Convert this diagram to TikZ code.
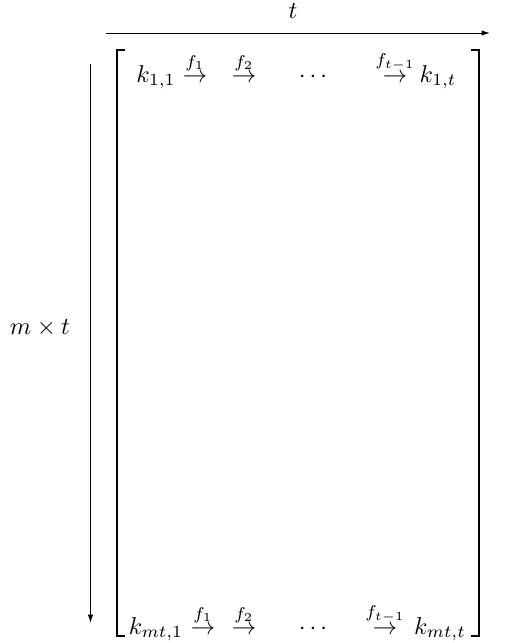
\documentclass[tikz,border=0pt]{standalone}
\usetikzlibrary{arrows.meta}
\begin{document}
\begin{tikzpicture}[x=0.41pt,y=-0.41pt,
  tip/.style={-{Latex[length=3.4pt,width=2.2pt]}},
  brk/.style={line width=0.85pt},
  cell/.style={anchor=base,inner sep=0pt}]
\useasboundingbox (0,0) rectangle (527,643);
% axes
\coordinate (ts) at (106,33);
\coordinate (te) at (490,33);
\draw[tip] (ts) -- (te);
\node (tl) at (293,11) {$t$};
\coordinate (ls) at (90.5,64);
\coordinate (le) at (90.5,623);
\draw[tip] (ls) -- (le);
\node (ml) at (40,328) {$m\times t$};
% brackets
\draw[brk] (125,50) -- (117,50) -- (117,636) -- (125,636);
\draw[brk] (471,50) -- (479,50) -- (479,636) -- (471,636);
% top row
\node[cell] (k11) at (156,82) {$k_{1,1}$};
\node[cell] (a11) at (195,82) {$\stackrel{f_1}{\rightarrow}$};
\node[cell] (a12) at (244,82) {$\stackrel{f_2}{\rightarrow}$};
\node[cell] (d1) at (313,82) {$\cdots$};
\node[cell] (a13) at (395,82) {$\stackrel{f_{t-1}}{\rightarrow}$};
\node[cell] (k1t) at (438,82) {$k_{1,t}$};
% bottom row
\node[cell] (km1) at (156,634) {$k_{mt,1}$};
\node[cell] (a21) at (203,634) {$\stackrel{f_1}{\rightarrow}$};
\node[cell] (a22) at (244,634) {$\stackrel{f_2}{\rightarrow}$};
\node[cell] (d2) at (313,634) {$\cdots$};
\node[cell] (a23) at (385,634) {$\stackrel{f_{t-1}}{\rightarrow}$};
\node[cell] (kmt) at (440,634) {$k_{mt,t}$};
\end{tikzpicture}
\end{document}
